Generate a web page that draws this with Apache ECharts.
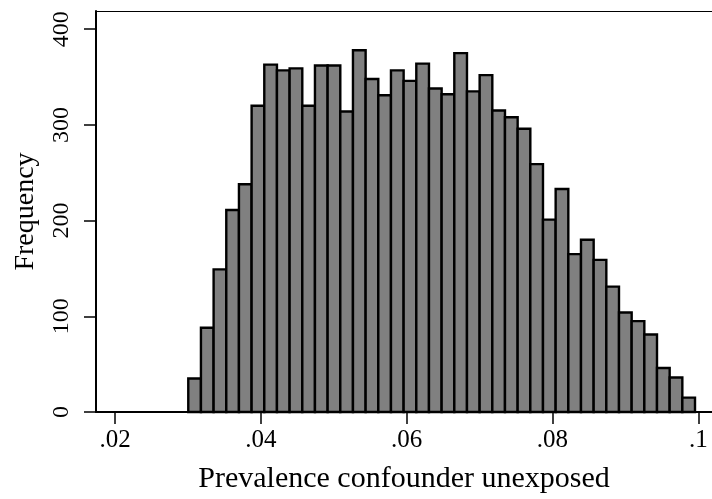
<!DOCTYPE html>
<html>
<head>
<meta charset="utf-8">
<script src="https://cdn.jsdelivr.net/npm/echarts@6/dist/echarts.min.js"></script>
<style>
html,body{margin:0;padding:0;background:#fff;}
#chart{width:712px;height:499px;}
</style>
</head>
<body>
<div id="chart"></div>
<script>
// Histogram: 40 equal bins between the smallest and largest observation
const binMin = 0.03005;
const binMax = 0.09955;
const counts = [35, 88, 149, 211, 238, 320, 363, 357, 359, 320,
                362, 362, 314, 378, 348, 331, 357, 346, 364, 338,
                332, 375, 335, 352, 315, 308, 296, 259, 201, 233,
                165, 180, 159, 131, 104, 95, 81, 46, 36, 15];
const xTickValues = [0.02, 0.04, 0.06, 0.08, 0.1];
const xTickLabels = ['.02', '.04', '.06', '.08', '.1'];
const yTickValues = [0, 100, 200, 300, 400];
const xTitle = 'Prevalence confounder unexposed';
const yTitle = 'Frequency';

const binWidth = (binMax - binMin) / counts.length;
const bins = counts.map((c, i) => [binMin + i * binWidth, binMin + (i + 1) * binWidth, c]);

const FONT = '"Liberation Serif", "DejaVu Serif", serif';
const X_MIN = 0.017394, X_MAX = 0.101881;
const chart = echarts.init(document.getElementById('chart'), null, {renderer: 'canvas'});
chart.setOption({
  backgroundColor: '#ffffff',
  animation: false,
  grid: {left: 96, top: 11, right: 0, bottom: 85, show: false},
  xAxis: [{
    type: 'value',
    min: X_MIN,
    max: X_MAX,
    name: xTitle,
    nameLocation: 'middle',
    nameGap: 52,
    nameTextStyle: {fontFamily: FONT, fontSize: 30, color: '#000'},
    axisLine: {show: true, onZero: false, lineStyle: {color: '#000', width: 2}},
    axisTick: {show: true, length: 12, customValues: xTickValues, lineStyle: {color: '#000', width: 1.5}},
    axisLabel: {
      customValues: xTickValues,
      margin: 16,
      fontFamily: FONT, fontSize: 25, color: '#000',
      formatter: v => {
        const i = xTickValues.findIndex(t => Math.abs(t - v) < 1e-9);
        return i >= 0 ? xTickLabels[i] : '';
      }
    },
    splitLine: {show: false}
  }, {
    type: 'value',
    position: 'top',
    min: X_MIN,
    max: X_MAX,
    axisLine: {show: true, onZero: false, lineStyle: {color: '#000', width: 1}},
    axisTick: {show: false},
    axisLabel: {show: false},
    splitLine: {show: false}
  }],
  yAxis: {
    type: 'value',
    min: 0,
    max: 419,
    name: yTitle,
    nameLocation: 'middle',
    nameGap: 56,
    nameTextStyle: {fontFamily: FONT, fontSize: 28, color: '#000'},
    axisLine: {show: true, lineStyle: {color: '#000', width: 2}},
    axisTick: {show: true, length: 12, customValues: yTickValues, lineStyle: {color: '#000', width: 1.5}},
    axisLabel: {
      customValues: yTickValues,
      rotate: 90,
      margin: 22,
      fontFamily: FONT, fontSize: 24, color: '#000'
    },
    splitLine: {show: false}
  },
  series: [{
    type: 'custom',
    xAxisIndex: 0,
    data: bins,
    encode: {x: [0, 1], y: 2},
    clip: false,
    renderItem: function (params, api) {
      const p0 = api.coord([api.value(0), api.value(2)]);
      const p1 = api.coord([api.value(1), 0]);
      return {
        type: 'rect',
        shape: {x: p0[0], y: p0[1], width: p1[0] - p0[0], height: p1[1] - p0[1]},
        style: {fill: '#808080', stroke: '#000', lineWidth: 2.4}
      };
    }
  }]
});
</script>
</body>
</html>
